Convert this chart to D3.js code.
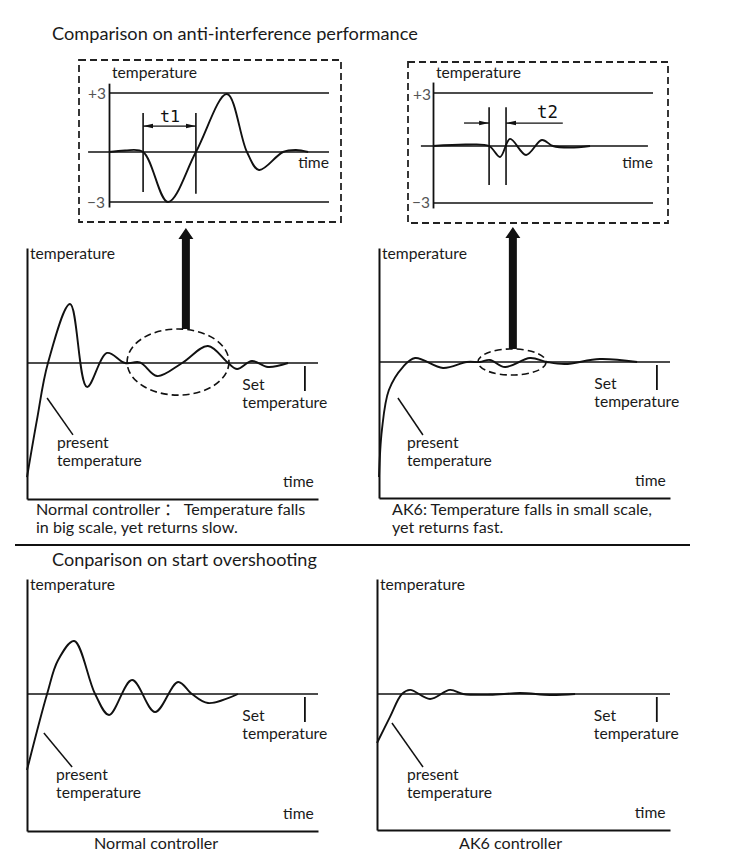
<!DOCTYPE html>
<html>
<head>
<meta charset="utf-8">
<script src="https://cdn.jsdelivr.net/npm/d3@7"></script>
<style>
  html, body { margin: 0; padding: 0; background: #ffffff; }
  svg { display: block; }
</style>
</head>
<body>
<script>
// ---------------- DATA ----------------
// time in % of the panel's time axis, temperature in % of the set point (set point = 100)
const normalDisturbTime = [0, 3.4, 7.2, 14.8, 20.6, 27.5, 33.7, 38.8, 44.7, 53.3, 62.2, 69.1, 72.2, 77.3, 82.8, 89.7];
const normalDisturbTemp = [16, 58, 100, 143.4, 82.4, 107.4, 100, 100.5, 90.4, 100, 112.5, 100, 95.6, 101.5, 97.1, 100];

const ak6DisturbTime = [0, 1.0, 3.4, 8.2, 12.4, 22.0, 30.2, 34.7, 38.1, 43.3, 51.9, 57.7, 63.9, 75.9, 88.7];
const ak6DisturbTemp = [15.4, 50, 79.4, 96.3, 102.9, 95.6, 100, 100, 101.5, 96.3, 102.9, 100, 98.5, 102.2, 100];

const normalStartTime = [0, 6.9, 10.7, 16.2, 23.4, 28.2, 36.1, 44.0, 51.9, 56.7, 62.2, 72.5];
const normalStartTemp = [44.5, 100, 124.8, 138.7, 100, 84.7, 110.2, 86.9, 108.8, 100, 93.4, 100];

const ak6StartTime = [0, 4.4, 8.5, 11.3, 18.1, 24.9, 29.4, 38.6, 48.8, 59, 67.6];
const ak6StartTemp = [64, 83, 100, 103, 96.3, 103, 100, 99.4, 100.7, 99.3, 100];

// zoomed insets: deviation from set point (band -3 .. +3)
const inset1Time = [0, 7.3, 15.5, 26.8, 39.5, 53.6, 62.7, 68.2, 79.1, 85, 90.5];
const inset1Dev  = [0, 0.08, 0, -3, 0, 2.95, 0, -1.08, 0, 0.1, 0];
const inset2Time = [0, 15.5, 25.5, 30.5, 35, 42.3, 49.5, 54.5, 62.3, 71.4];
const inset2Dev  = [0, 0.085, 0, -0.58, 0.4, -0.47, 0.34, 0, -0.08, 0];

const bandTicks = [3, -3];
const bandTickLabels = ["+3", "\u22123"];
const setPoint = 100;

// ---------------- SETUP ----------------
const svg = d3.select("body").append("svg").attr("width", 750).attr("height", 855);
const FONT = "Lato, 'Noto Sans', 'Noto Sans CJK SC', sans-serif";
const INK = "#111";

const defs = svg.append("defs");
defs.append("marker").attr("id", "ah").attr("viewBox", "0 0 10 6")
  .attr("refX", 10).attr("refY", 3).attr("markerWidth", 10).attr("markerHeight", 6)
  .attr("markerUnits", "userSpaceOnUse").attr("orient", "auto-start-reverse")
  .append("path").attr("d", "M0,0.8 L10,3 L0,5.2 Z").attr("fill", INK);

function measureSize(s, width, family) {
  const t = svg.append("text").attr("font-family", family || FONT).attr("font-size", 20).text(s);
  const L = t.node().getComputedTextLength();
  t.remove();
  return 20 * width / L;
}
function text(g, s, x, y, size, opts = {}) {
  return g.append("text").attr("x", x).attr("y", y)
    .attr("font-family", opts.family || FONT).attr("font-size", size)
    .attr("fill", opts.fill || "#1a1a1a").text(s);
}
function fitText(g, s, x, y, width, opts = {}) {
  return text(g, s, x, y, measureSize(s, width, opts.family), opts);
}

const LABEL = measureSize("temperature", 85);
const CAPTION = measureSize("AK6: Temperature falls in small scale,", 260);

const lineGen = (x, y) => d3.line().x(d => x(d[0])).y(d => y(d[1])).curve(d3.curveCatmullRom.alpha(0.5));
const zip = (a, b) => a.map((v, i) => [v, b[i]]);

// ---------------- TITLES ----------------
fitText(svg, "Comparison on anti-interference performance", 52, 40, 366);
fitText(svg, "Conparison on start overshooting", 52, 566, 265);

svg.append("line").attr("x1", 15).attr("x2", 690).attr("y1", 545).attr("y2", 545)
  .attr("stroke", INK).attr("stroke-width", 2);

// ---------------- MAIN PANELS ----------------
const panels = [
  { key: "A", x0: 27, x1: 318, yb: 499, ys: 363, yt: 248, time: normalDisturbTime, temp: normalDisturbTemp,
    lead: [6.9, 74.3, 15.8, 47.1] },
  { key: "B", x0: 379, x1: 670, yb: 498, ys: 362, yt: 248, time: ak6DisturbTime, temp: ak6DisturbTemp,
    lead: [6.5, 73.5, 15.1, 46.3] },
  { key: "C", x0: 27, x1: 318, yb: 831, ys: 694, yt: 579, time: normalStartTime, temp: normalStartTemp,
    lead: [5.8, 71.5, 15.5, 46.7] },
  { key: "D", x0: 377, x1: 670, yb: 830, ys: 694, yt: 579, time: ak6StartTime, temp: ak6StartTemp,
    lead: [5.1, 78.7, 15.7, 46.3] }
];

panels.forEach(p => {
  const g = svg.append("g");
  const x = d3.scaleLinear().domain([0, 100]).range([p.x0, p.x1]);
  const y = d3.scaleLinear().domain([0, setPoint]).range([p.yb, p.ys]);
  p.x = x; p.y = y;
  const yAxisScale = d3.scaleLinear().domain([0, y.invert(p.yt)]).range([p.yb, p.yt]);

  // axes (domain lines only)
  g.append("g").attr("transform", `translate(${p.x0},0)`)
    .call(d3.axisLeft(yAxisScale).tickValues([]).tickSizeOuter(0))
    .select(".domain").attr("stroke", INK).attr("stroke-width", 2);
  g.append("g").attr("transform", `translate(0,${p.yb})`)
    .call(d3.axisBottom(x).tickValues([]).tickSizeOuter(0))
    .select(".domain").attr("stroke", INK).attr("stroke-width", 2);

  // set-point line
  g.append("line").attr("x1", x(0)).attr("x2", x(100)).attr("y1", y(setPoint)).attr("y2", y(setPoint))
    .attr("stroke", INK).attr("stroke-width", 1.6);

  // curve
  g.append("path").datum(zip(p.time, p.temp)).attr("d", lineGen(x, y))
    .attr("fill", "none").attr("stroke", INK).attr("stroke-width", 1.9);

  // labels
  text(g, "temperature", p.x0 + 3, p.yt + 11, LABEL);
  text(g, "time", x(88), p.yb - 12, LABEL);
  text(g, "Set", x(74), p.ys + 27, LABEL);
  text(g, "temperature", x(74), p.ys + 45, LABEL);
  g.append("line").attr("x1", x(95.5)).attr("x2", x(95.5)).attr("y1", p.ys + 3).attr("y2", p.ys + 28)
    .attr("stroke", INK).attr("stroke-width", 1.8);

  const [lt0, lv0, lt1, lv1] = p.lead;
  g.append("line").attr("x1", x(lt0)).attr("y1", y(lv0)).attr("x2", x(lt1)).attr("y2", y(lv1))
    .attr("stroke", INK).attr("stroke-width", 1.5);
  text(g, "present", x(lt1) - 16, y(lv1) + 13, LABEL);
  text(g, "temperature", x(lt1) - 16, y(lv1) + 31, LABEL);
});

// captions
text(svg, "Normal controller \uFF1A Temperature falls", 36, 515, CAPTION);
text(svg, "in big scale, yet returns slow.", 36, 533, CAPTION);
text(svg, "AK6: Temperature falls in small scale,", 392, 515, CAPTION);
text(svg, "yet returns fast.", 392, 533, CAPTION);
text(svg, "Normal controller", 94, 849, CAPTION);
text(svg, "AK6 controller", 459, 849, CAPTION);

// ---------------- ELLIPSES + BIG ARROWS ----------------
function highlight(p, ct, cv, rxT, ryV, arrowT, tipY) {
  const cx = p.x(ct), cy = p.y(cv);
  const rx = p.x(ct + rxT) - cx, ry = cy - p.y(cv + ryV);
  svg.append("ellipse").attr("cx", cx).attr("cy", cy).attr("rx", rx).attr("ry", ry)
    .attr("fill", "none").attr("stroke", INK).attr("stroke-width", 1.6).attr("stroke-dasharray", "7,4");
  const ax = p.x(arrowT);
  const baseY = cy - ry;
  const headLen = 11, shaftW = 4, headW = 7.5;
  const pts = [
    [ax - shaftW, baseY], [ax - shaftW, tipY + headLen], [ax - headW, tipY + headLen],
    [ax, tipY], [ax + headW, tipY + headLen], [ax + shaftW, tipY + headLen], [ax + shaftW, baseY]
  ];
  svg.append("path").attr("d", d3.line()(pts) + "Z").attr("fill", INK);
}
highlight(panels[0], 51.9, 100.7, 17.5, 24.3, 54.6, 228);
highlight(panels[1], 45.7, 100, 11.7, 9.6, 46.0, 227);

// ---------------- INSETS ----------------
const insets = [
  { box: [79, 60, 341, 222], x0: 109, x1: 329, yr: [202, 152, 93], axisV: [-3.3, 3.5], zeroT: [-9.5, 100],
    time: inset1Time, dev: inset1Dev, tickX: 88, tickY: [99, 208] },
  { box: [408, 62, 668, 223], x0: 433, x1: 653, yr: [203, 146, 93], axisV: [-3.26, 3.62], zeroT: [-5.5, 97.7],
    time: inset2Time, dev: inset2Dev, tickX: 413, tickY: [100, 208] }
];

insets.forEach((s, i) => {
  const g = svg.append("g");
  const [bx0, by0, bx1, by1] = s.box;
  g.append("rect").attr("x", bx0).attr("y", by0).attr("width", bx1 - bx0).attr("height", by1 - by0)
    .attr("fill", "none").attr("stroke", "#222").attr("stroke-width", 1.8).attr("stroke-dasharray", "7,4");
  const x = d3.scaleLinear().domain([0, 100]).range([s.x0, s.x1]);
  const y = d3.scaleLinear().domain([-3, 0, 3]).range(s.yr);
  s.x = x; s.y = y;

  const axisScale = d3.scaleLinear().domain(s.axisV).range([y(s.axisV[0]), y(s.axisV[1])]);
  g.append("g").attr("transform", `translate(${s.x0},0)`)
    .call(d3.axisLeft(axisScale).tickValues([]).tickSizeOuter(0))
    .select(".domain").attr("stroke", INK).attr("stroke-width", 1.8);

  bandTicks.forEach((v, k) => {
    g.append("line").attr("x1", x(0)).attr("x2", x(100)).attr("y1", y(v)).attr("y2", y(v))
      .attr("stroke", INK).attr("stroke-width", 1.6);
    fitText(g, bandTickLabels[k], s.tickX - (k === 1 ? 1 : 0), s.tickY[k], 18, { fill: "#555" });
  });
  g.append("line").attr("x1", x(s.zeroT[0])).attr("x2", x(s.zeroT[1])).attr("y1", y(0)).attr("y2", y(0))
    .attr("stroke", INK).attr("stroke-width", 1.6);

  g.append("path").datum(zip(s.time, s.dev)).attr("d", lineGen(x, y))
    .attr("fill", "none").attr("stroke", INK).attr("stroke-width", 1.9);

  text(g, "temperature", s.x0 + 3, 78, LABEL);
  text(g, "time", x(86), 168, LABEL);
});

// t1 marks
(function () {
  const s = insets[0], x = s.x, y = s.y, g = svg.append("g");
  [[15.5, 1.98, -2.4], [39.5, 1.98, -2.5]].forEach(([t, a, b]) => {
    g.append("line").attr("x1", x(t)).attr("x2", x(t)).attr("y1", y(a)).attr("y2", y(b))
      .attr("stroke", INK).attr("stroke-width", 1.6);
  });
  g.append("line").attr("x1", x(15.5)).attr("x2", x(39.5)).attr("y1", y(1.32)).attr("y2", y(1.32))
    .attr("stroke", INK).attr("stroke-width", 1.3)
    .attr("marker-start", "url(#ah)").attr("marker-end", "url(#ah)");
  fitText(g, "t1", x(23.2), 122, 20, { family: "'DejaVu Sans Mono', monospace", fill: INK });
})();

// t2 marks
(function () {
  const s = insets[1], x = s.x, y = s.y, g = svg.append("g");
  [25.5, 33.2].forEach(t => {
    g.append("line").attr("x1", x(t)).attr("x2", x(t)).attr("y1", y(2.2)).attr("y2", y(-2.05))
      .attr("stroke", INK).attr("stroke-width", 1.6);
  });
  g.append("line").attr("x1", x(14.1)).attr("x2", x(25.5)).attr("y1", y(1.3)).attr("y2", y(1.3))
    .attr("stroke", INK).attr("stroke-width", 1.3).attr("marker-end", "url(#ah)");
  g.append("line").attr("x1", x(59)).attr("x2", x(33.2)).attr("y1", y(1.3)).attr("y2", y(1.3))
    .attr("stroke", INK).attr("stroke-width", 1.3).attr("marker-end", "url(#ah)");
  fitText(g, "t2", x(47.3), 118, 21, { family: "'DejaVu Sans Mono', monospace", fill: INK });
})();
</script>
</body>
</html>
